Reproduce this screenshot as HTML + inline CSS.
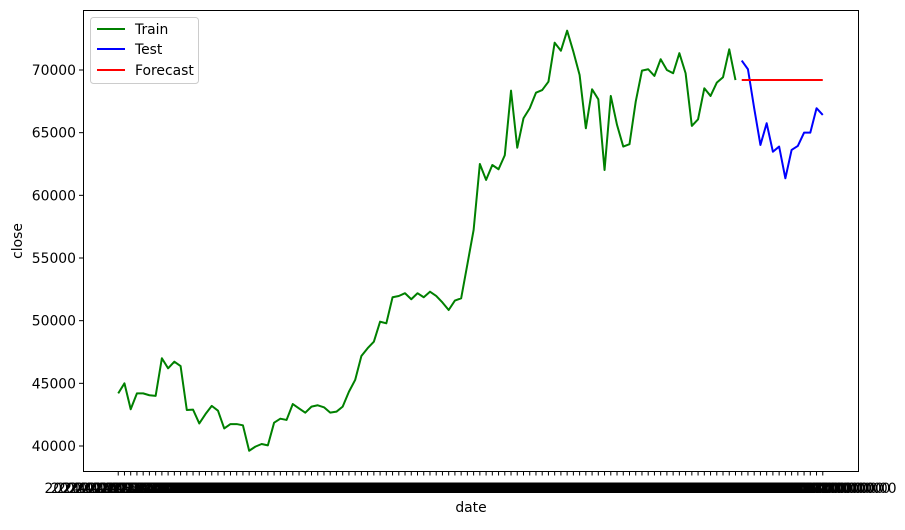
<!DOCTYPE html>
<html><head><meta charset="utf-8"><style>
body{margin:0;background:#fff;}
svg text{font-family:"DejaVu Sans","Liberation Sans",sans-serif;}
</style></head><body>
<svg id="chart" width="905" height="525" xmlns="http://www.w3.org/2000/svg">
<rect x="0" y="0" width="905" height="525" fill="#fff"/>
<g id="xticks"></g>
<g id="yticks"></g>
<g id="series"></g>
<rect x="83.5" y="10.5" width="775" height="461" fill="none" stroke="#000" stroke-width="1"/>
<text x="471" y="512" font-size="13.9" text-anchor="middle">date</text>
<text x="22" y="241" font-size="13.9" text-anchor="middle" transform="rotate(-90 22 241)">close</text>
<g>
<rect x="90.5" y="17.5" width="108" height="66" rx="3" fill="#fff" fill-opacity="0.8" stroke="#ccc"/>
<g><line x1="97" y1="29" x2="125" y2="29" stroke="green" stroke-width="2"/><text x="135" y="34" font-size="13.9">Train</text></g>
<g><line x1="97" y1="49" x2="125" y2="49" stroke="blue" stroke-width="2"/><text x="135" y="54" font-size="13.9">Test</text></g>
<g><line x1="97" y1="70" x2="125" y2="70" stroke="red" stroke-width="2"/><text x="135" y="75" font-size="13.9">Forecast</text></g>
</g>
</svg>
<script>
const trainValues=[44200,45000,42930,44200,44200,44050,44000,47000,46200,46730,46380,42870,42900,41800,42550,43200,42820,41400,41750,41750,41650,39620,39950,40160,40050,41860,42180,42080,43350,43000,42660,43140,43250,43090,42660,42740,43140,44330,45270,47180,47800,48320,49920,49790,51870,51970,52190,51710,52190,51870,52310,51970,51450,50850,51600,51780,54500,57240,62500,61230,62420,62080,63200,68350,63800,66150,66950,68190,68400,69070,72180,71540,73140,71460,69600,65350,68460,67660,62020,67930,65620,63890,64080,67480,69950,70060,69530,70860,70000,69740,71340,69740,65540,66070,68540,67930,68990,69420,71650,69200];
const testValues=[70750,70060,66950,64020,65750,63480,63890,61360,63620,63940,65000,65000,66950,66410];
const forecastValues=[69200,69200,69200,69200,69200,69200,69200,69200,69200,69200,69200,69200,69200,69200];
const yTickValues=[40000,45000,50000,55000,60000,65000,70000];
const startDate="2024-01-01";

const NS="http://www.w3.org/2000/svg";
const N=trainValues.length+testValues.length;
const xMin=-0.05*(N-1), xMax=(N-1)*1.05;
const X=i=>83+(i-xMin)/(xMax-xMin)*775;
const Y=v=>446-(v-40000)*(376/30000);
function mk(tag,attrs,parent){const e=document.createElementNS(NS,tag);for(const k in attrs)e.setAttribute(k,attrs[k]);parent.appendChild(e);return e;}
const series=document.getElementById('series');
function line(vals,off,color,name){
  const pts=vals.map((v,i)=>X(i+off).toFixed(2)+','+Y(v).toFixed(2)).join(' ');
  const p=mk('polyline',{points:pts,fill:'none',stroke:color,'stroke-width':2,'stroke-linejoin':'round'},series);
  
  
}
line(trainValues,0,'green','train-line');
line(testValues,trainValues.length,'blue','test-line');
line(forecastValues,trainValues.length,'red','forecast-line');
const yt=document.getElementById('yticks');
yTickValues.forEach(v=>{
  const y=Y(v);
  mk('line',{x1:79,x2:83,y1:y,y2:y,stroke:'#000'},yt);
  const t=mk('text',{x:76,y:y+5,'font-size':13.9,'text-anchor':'end'},yt);
  t.textContent=v;
  
  
});
const xt=document.getElementById('xticks');
const d0=new Date(startDate+"T00:00:00Z");
for(let i=0;i<N;i++){
  const x=X(i);
  mk('line',{x1:x,x2:x,y1:471.5,y2:475.5,stroke:'#000'},xt);
  const d=new Date(d0.getTime()+i*7*86400000);
  const t=mk('text',{x:x,y:493,'font-size':13.9,'text-anchor':'middle'},xt);
  t.textContent=d.toISOString().slice(0,10)+' 00:00:00';
  
  
}
</script>
</body></html>
